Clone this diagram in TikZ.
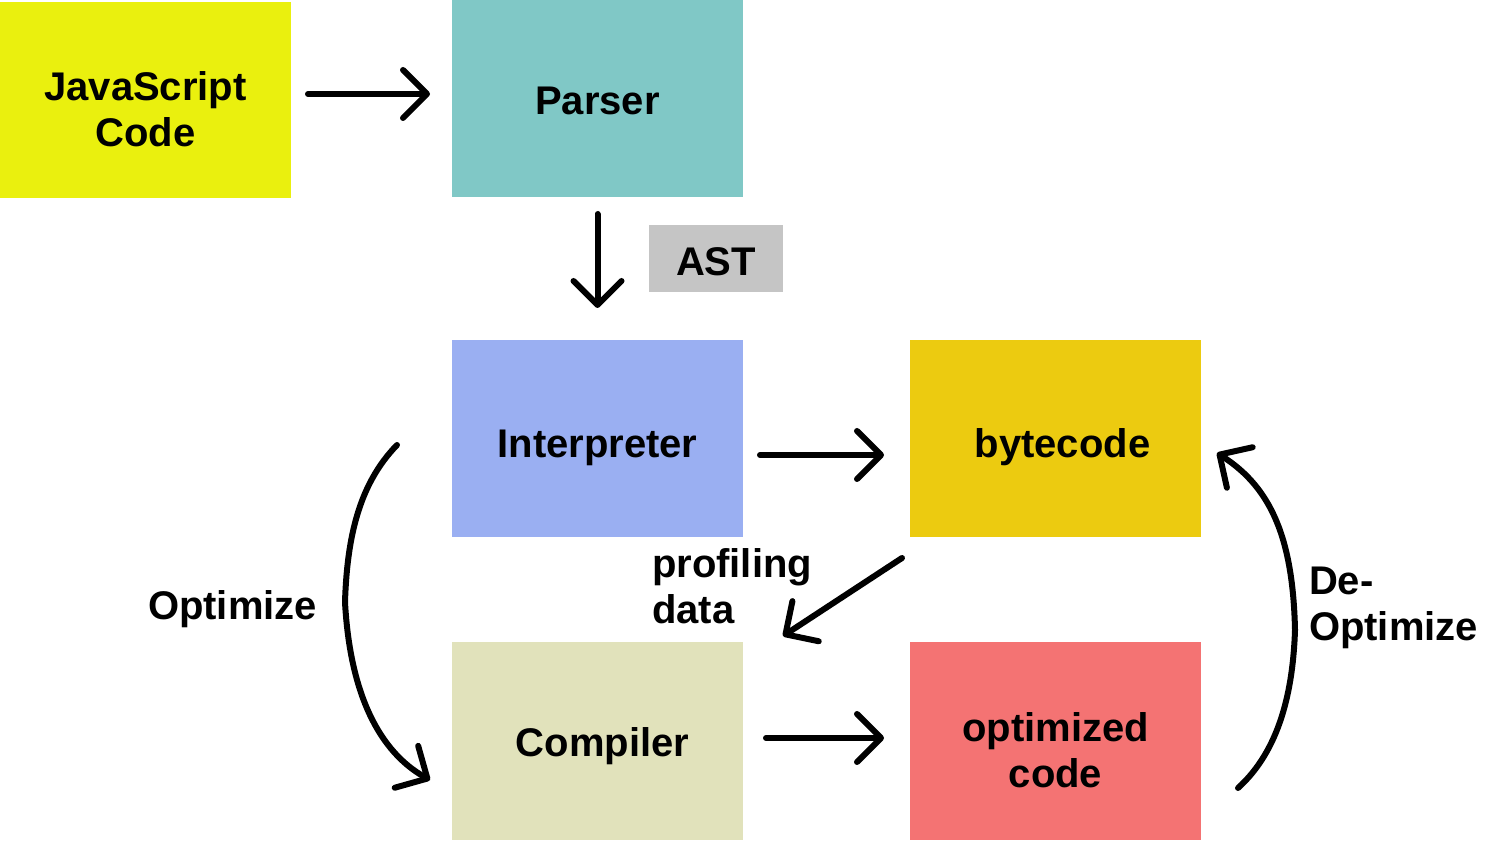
\documentclass[tikz,border=0pt]{standalone}
\usepackage{fontspec}
\setmainfont{Liberation Sans}
\usetikzlibrary{arrows.meta,calc}
\definecolor{cjs}{RGB}{234,240,14}
\definecolor{cparser}{RGB}{128,200,198}
\definecolor{cast}{RGB}{197,197,197}
\definecolor{cinterp}{RGB}{154,175,242}
\definecolor{cbyte}{RGB}{236,203,16}
\definecolor{ccomp}{RGB}{225,226,187}
\definecolor{copt}{RGB}{244,115,115}
\newcommand{\twolines}[2]{\begin{tabular}[b]{@{}c@{}}#1\\#2\end{tabular}}
\tikzset{
  box/.style={rectangle, inner sep=0pt, outer sep=0pt, minimum width=291pt, minimum height=197pt, text depth=0pt, font=\bfseries\fontsize{40}{46}\selectfont},
  lbl/.style={inner sep=0pt, outer sep=0pt, align=left, font=\bfseries\fontsize{40}{46}\selectfont},
  arr/.style={line width=6pt, line cap=round, line join=round, -{Straight Barb[round,length=24pt,width=48pt]}}
}
\begin{document}
\begin{tikzpicture}[x=1pt,y=1pt]
\useasboundingbox (0,0) rectangle (1498,840);
\node[box, fill=cjs, minimum height=196pt, text height=94pt] (js) at (145.5,740) {\twolines{JavaScript}{Code}};
\node[box, fill=cparser, text height=33pt] (parser) at (597.5,741.5) {Parser};
\node[box, fill=cast, minimum width=134pt, minimum height=67pt, text height=35pt] (ast) at (716,581.5) {AST};
\node[box, fill=cinterp, text height=39pt] (interp) at (597.5,401.5) {Interpreter};
\node[box, fill=cbyte, text height=39pt] (byte) at (1055.5,401.5) {\hspace{14pt}bytecode};
\node[box, fill=ccomp, minimum height=198pt, text height=32pt] (comp) at (597.5,99) {\hspace{10pt}Compiler};
\node[box, fill=copt, minimum height=198pt, text height=93pt] (opt) at (1055.5,99) {\twolines{optimized}{code}};
\node[lbl, anchor=west] (optlbl) at (148,231) {Optimize};
\node[lbl, anchor=west] (proflbl) at (652,254) {profiling\\data};
\node[lbl, anchor=west] (deoptlbl) at (1309,232) {De-\\Optimize};
\draw[arr] ($(js.east)+(17,6)$) -- ($(parser.west)+(-22,4.5)$);
\draw[arr] ($(parser.south)+(0,-17)$) -- ($(interp.north)+(0,32)$);
\draw[arr] ($(interp.east)+(17,-16.5)$) -- ($(byte.west)+(-26,-16.5)$);
\draw[arr] ($(comp.east)+(23,3)$) -- ($(opt.west)+(-26,3)$);
\draw[arr] ($(byte.south west)+(-8,-21)$) -- ($(comp.north east)+(40,6)$);
\draw[arr] ($(interp.west)+(-55,-6.5)$) .. controls (358,355) and (347,300) .. (345,238)
  .. controls (350,145) and (380,88) .. ($(comp.west)+(-22,-39)$);
\draw[arr] ($(opt.east)+(37,-47)$) .. controls (1280,90) and (1293,150) .. (1295,210)
  .. controls (1293,300) and (1272,352) .. ($(byte.east)+(16,-14.5)$);
\end{tikzpicture}
\end{document}
